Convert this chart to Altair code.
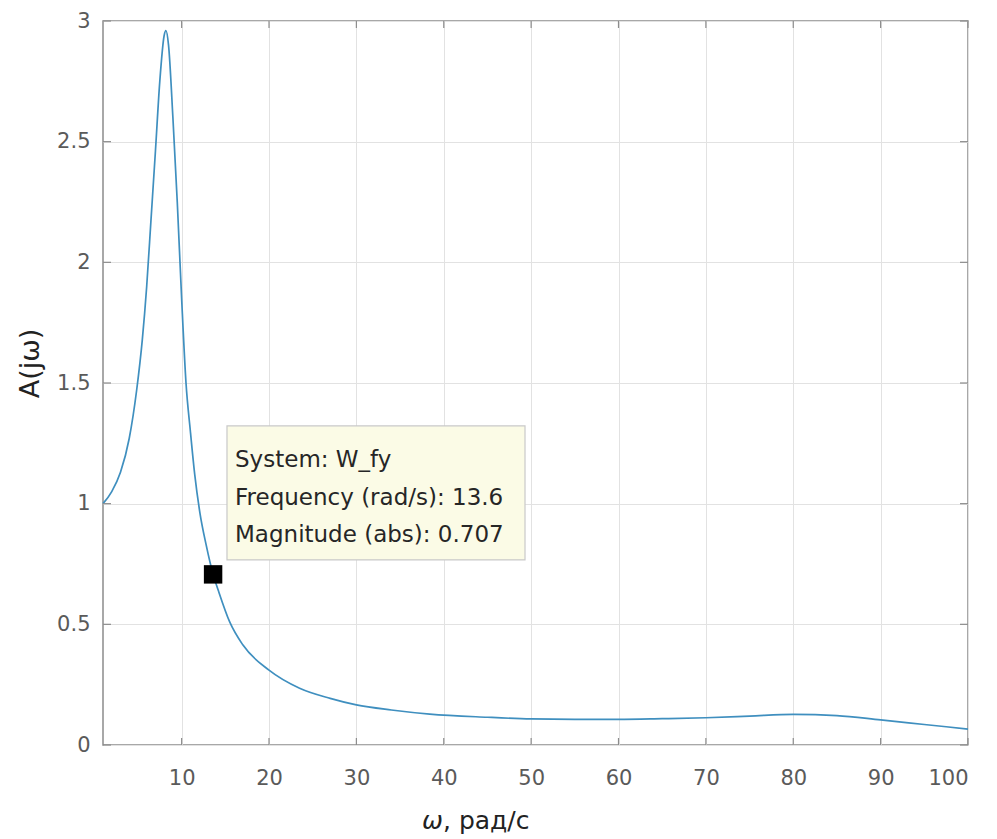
import altair as alt
import pandas as pd

# ---- data ----
omega = [1, 2, 3, 4, 4.85, 5.5, 6, 6.5, 7, 7.5, 8, 8.2, 8.5, 9, 9.5, 10, 10.5,
         11, 11.5, 12.1, 12.8, 13.6, 14.2, 15.5, 17, 20, 23.5, 27, 30, 34, 38.4,
         45, 50, 55, 60, 65, 70, 75, 80, 85, 90, 95, 100]
magnitude = [1.0, 1.05, 1.13, 1.27, 1.47, 1.68, 1.9, 2.18, 2.46, 2.75, 2.94, 2.96,
             2.9, 2.6, 2.25, 1.85, 1.5, 1.3, 1.12, 0.96, 0.83, 0.707, 0.64,
             0.51, 0.415, 0.31, 0.235, 0.193, 0.166, 0.145, 0.128, 0.115, 0.108,
             0.106, 0.106, 0.109, 0.113, 0.12, 0.127, 0.122, 0.104, 0.085, 0.066]
x_ticks = [10, 20, 30, 40, 50, 60, 70, 80, 90, 100]
y_ticks = [0, 0.5, 1, 1.5, 2, 2.5, 3]
marker_freq = [13.6]
marker_mag = [0.707]
tip_lines = ["System: W_fy", "Frequency (rad/s): 13.6", "Magnitude (abs): 0.707"]

W, H = 865, 724
FONT = "DejaVu Sans"
GRAY = "#8c8c8c"

curve = pd.DataFrame({"w": omega, "A": magnitude})
mk = pd.DataFrame({"w": marker_freq, "A": marker_mag})
xt = pd.DataFrame({"t": x_ticks})
yt = pd.DataFrame({"t": y_ticks})
tips = pd.DataFrame({"txt": tip_lines, "ty": [1.152, 0.994, 0.841]})

xscale = alt.Scale(domain=[1, 100], nice=False, zero=False)
yscale = alt.Scale(domain=[0, 3], nice=False)

xaxis = alt.Axis(values=x_ticks, grid=True, gridColor="#e2e2e2", gridWidth=1,
                 domain=False, ticks=False, labelFont=FONT, labelFontSize=21,
                 labelColor="#5a5a5a", labelPadding=33, labelBaseline="middle",
                 title=None)
yaxis = alt.Axis(values=y_ticks, grid=True, gridColor="#e2e2e2", gridWidth=1,
                 domain=False, ticks=False, labelFont=FONT, labelFontSize=21,
                 labelColor="#5a5a5a", labelPadding=13, format="~g",
                 title="A(jω)", titleFont=FONT, titleFontSize=27,
                 titleFontWeight="normal", titleColor="#222222",
                 titleX=-65, titleY=342, titleBaseline="alphabetic",
                 titleAlign="center", titleAngle=270, titleAnchor="start")

line = alt.Chart(curve).mark_line(color="#3f8fbf", strokeWidth=1.7,
                                   interpolate="monotone").encode(
    x=alt.X("w:Q", scale=xscale, axis=xaxis),
    y=alt.Y("A:Q", scale=yscale, axis=yaxis),
)

tick_bottom = alt.Chart(xt).mark_rule(color=GRAY, strokeWidth=1.2).encode(
    x=alt.X("t:Q", scale=xscale), y=alt.value(H), y2=alt.value(H - 7))
tick_top = alt.Chart(xt).mark_rule(color=GRAY, strokeWidth=1.2).encode(
    x=alt.X("t:Q", scale=xscale), y=alt.value(0), y2=alt.value(7))
tick_left = alt.Chart(yt).mark_rule(color=GRAY, strokeWidth=1.2).encode(
    y=alt.Y("t:Q", scale=yscale), x=alt.value(0), x2=alt.value(8))
tick_right = alt.Chart(yt).mark_rule(color=GRAY, strokeWidth=1.2).encode(
    y=alt.Y("t:Q", scale=yscale), x=alt.value(W), x2=alt.value(W - 8))

box = alt.Chart(mk).mark_rect(fill="#fbfbe6", stroke="#c9c9c9",
                               strokeWidth=1.2).encode(
    x=alt.datum(15.19, scale=xscale), x2=alt.datum(49.3),
    y=alt.datum(1.322, scale=yscale), y2=alt.datum(0.767))

tip_text = alt.Chart(tips).mark_text(align="left", baseline="alphabetic",
                                     font=FONT, fontSize=23,
                                     color="#262626").encode(
    x=alt.datum(16.11, scale=xscale),
    y=alt.Y("ty:Q", scale=yscale),
    text="txt:N")

marker = alt.Chart(mk).mark_point(shape="square", filled=True, color="black",
                                  size=340, opacity=1).encode(
    x=alt.X("w:Q", scale=xscale), y=alt.Y("A:Q", scale=yscale))

# x-axis title: italic omega followed by the unit
xtitle_w = alt.Chart(mk).mark_text(align="left", baseline="alphabetic",
                                   font=FONT, fontSize=25, fontStyle="italic",
                                   color="#222222").encode(
    x=alt.value(319), y=alt.value(H + 84), text=alt.value("ω"))
xtitle_u = alt.Chart(mk).mark_text(align="left", baseline="alphabetic",
                                   font=FONT, fontSize=25,
                                   color="#222222").encode(
    x=alt.value(340), y=alt.value(H + 84), text=alt.value(", рад/с"))

chart = alt.layer(line, tick_bottom, tick_top, tick_left, tick_right,
                  box, tip_text, marker, xtitle_w, xtitle_u).properties(
    width=W, height=H,
    autosize=alt.AutoSizeParams(type="none"),
    padding={"left": 103, "top": 21, "right": 29, "bottom": 94},
    background="white",
).configure_view(stroke=GRAY, strokeWidth=1.5)

chart.save("out.html", embed_options={"renderer": "svg", "actions": False})
